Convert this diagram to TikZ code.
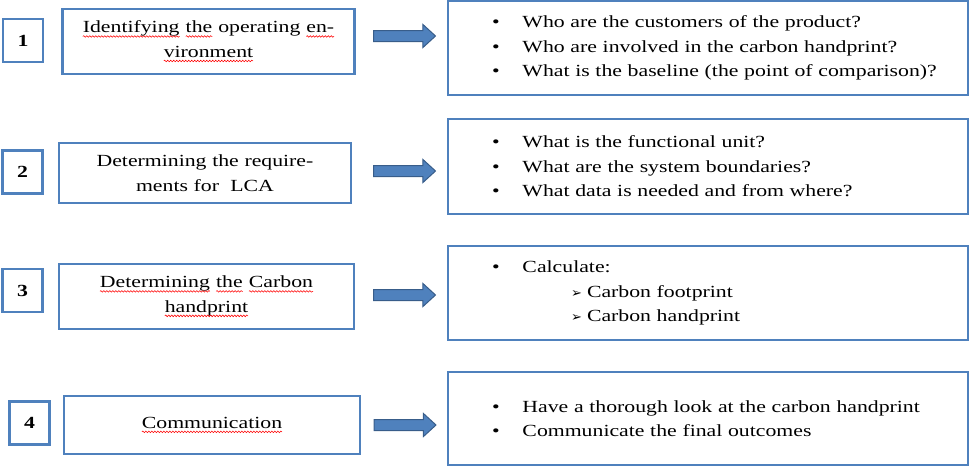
\documentclass[tikz,border=0pt]{standalone}
\usepackage{fontspec}
\setmainfont{Liberation Serif}[FakeStretch=1.28]
\newfontfamily\symfont{DejaVu Sans}
\usepackage{xcolor}
\usetikzlibrary{shapes.arrows, positioning, decorations.pathmorphing}

\definecolor{boxblue}{HTML}{4F81BD}
\definecolor{arrowedge}{HTML}{385D8A}

% red wavy underline, as a spell checker draws it
\newcommand{\spell}[1]{\tikz[baseline=(w.base)]{\node[shape=rectangle, draw=none, fill=none, inner sep=0pt, outer sep=0pt, text width={}, minimum width=0pt, minimum height=0pt] (w) {#1};
  \draw[red, line width=0.55pt, decorate, decoration={snake, amplitude=0.8pt, segment length=3pt}] ([yshift=-3.5pt]w.base west) -- ([yshift=-3.5pt]w.base east);}}
\newcommand{\itemline}[1]{\hspace*{29pt}\makebox[30.5pt][l]{•}#1}
\newcommand{\subline}[1]{\hspace*{108pt}\makebox[16pt][l]{\symfont\fontsize{13}{13}\selectfont ➢}#1}

\begin{document}
\begin{tikzpicture}[
    x=1pt, y=-1pt,
    font=\fontsize{17}{24.5}\selectfont,
    numbox/.style={rectangle, draw=boxblue, line width=2.5pt, minimum width=40pt, minimum height=43pt, inner sep=0pt, font=\fontsize{17}{24.5}\selectfont\bfseries},
    stagebox/.style={rectangle, draw=boxblue, line width=2.5pt, minimum width=292pt, minimum height=63pt, text width=284pt, align=center, inner sep=0pt},
    infobox/.style={rectangle, draw=boxblue, line width=2.5pt, minimum width=520pt, minimum height=94pt, text width=490pt, align=left, inner sep=0pt},
    blockarrow/.style={single arrow, draw=arrowedge, fill=boxblue, line width=1pt, minimum height=62pt, minimum width=22pt, inner xsep=0pt, inner ysep=5pt, single arrow head extend=6pt, single arrow tip angle=85}
]
\useasboundingbox (0,0) rectangle (971,467);

% step numbers
\node[numbox] (num1) at (23,40.5) {1};
\node[numbox] (num2) at (22.5,172) {2};
\node[numbox] (num3) at (22.5,290.5) {3};
\node[numbox] (num4) at (29.5,423) {4};

% stages
\node[stagebox, minimum height=65pt] (stage1) at (208.5,41.5) {\spell{Identifying} \spell{the} operating \spell{en-}\\\spell{vironment}};
\node[stagebox, minimum height=60pt] (stage2) at (205,173) {Determining the require-\\ments for\ \ LCA};
\node[stagebox, minimum height=65pt, minimum width=295pt] (stage3) at (206.5,296.5) {\spell{Determining} \spell{the} \spell{Carbon}\\\spell{handprint}};
\node[stagebox, minimum height=58pt, minimum width=296pt] (stage4) at (212,425) {\spell{Communication}};

% questions
\node[infobox] (info1) at (708,48) {\itemline{Who are the customers of the product?}\\\itemline{Who are involved in the carbon handprint?}\\\itemline{What is the baseline (the point of comparison)?}};
\node[infobox, minimum height=95pt] (info2) at (708,166.5) {\itemline{What is the functional unit?}\\\itemline{What are the system boundaries?}\\\itemline{What data is needed and from where?}};
\node[infobox] (info3) at (708,293) {\itemline{Calculate:}\\\subline{Carbon footprint}\\\subline{Carbon handprint}};
\node[infobox, minimum height=93pt] (info4) at (708,418.5) {\itemline{Have a thorough look at the carbon handprint}\\\itemline{Communicate the final outcomes}};

% block arrows
\node[blockarrow] (arr1) at (401.5,36) {};
\node[blockarrow] (arr2) at (401.5,171) {};
\node[blockarrow] (arr3) at (401.5,295) {};
\node[blockarrow] (arr4) at (402,425) {};

\end{tikzpicture}
\end{document}
